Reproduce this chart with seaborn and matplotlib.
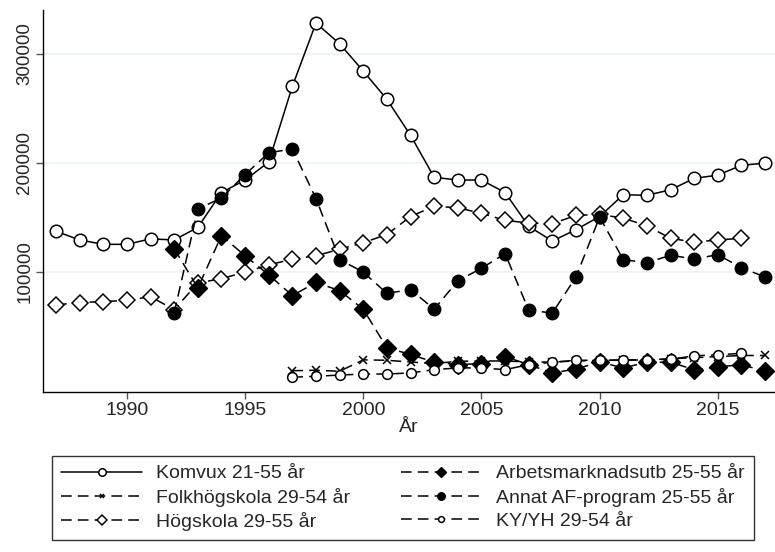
import numpy as np
import pandas as pd
import matplotlib
matplotlib.use("Agg")
import matplotlib.pyplot as plt
import seaborn as sns

years_all = list(range(1987, 2018))
komvux = [137000, 129000, 125000, 125000, 130000, 129000, 140500, 172500, 184000, 200500,
          270000, 328000, 309000, 284000, 258000, 225000, 186500, 184000, 184000, 172500,
          141500, 128000, 138500, 150500, 170500, 170000, 175000, 185500, 188500, 197500, 199500]

years_arb = list(range(1992, 2018))
arbets = [121000, 85000, 133000, 114500, 97000, 78000, 90000, 82500, 65500, 30000, 24000,
          16800, 14600, 15600, 22000, 14600, 7000, 10600, 17000, 11600, 16800, 16800, 10000,
          12500, 14600, 8500]

years_folk = list(range(1997, 2018))
folk = [9000, 9500, 8500, 19000, 18600, 17000, 15600, 17700, 17900, 18000, 17000, 17000,
        18000, 18500, 19000, 19000, 20000, 21000, 22000, 23000, 23000]

years_annat = list(range(1992, 2018))
annat = [62000, 157500, 167500, 189000, 209000, 212500, 167000, 111000, 99500, 80000, 83500,
         65500, 91500, 103000, 116500, 64500, 62000, 95000, 150000, 111000, 108000, 115000,
         111500, 115500, 103500, 95000]

years_hog = list(range(1987, 2017))
hogskola = [69500, 71500, 72500, 73500, 77000, 65000, 89500, 93500, 99500, 106000, 111500,
            114500, 120500, 126500, 134000, 150500, 160000, 158500, 153500, 147000, 144500,
            144000, 151500, 152500, 149000, 142000, 130500, 127000, 129000, 130500]

years_ky = list(range(1997, 2017))
kyyh = [3000, 4000, 5000, 6000, 6000, 7000, 10000, 11600, 11600, 10000, 14600, 16800,
        18600, 18600, 18600, 19000, 19500, 22700, 23600, 25000]

labels = ["Komvux 21-55 år", "Arbetsmarknadsutb 25-55 år", "Folkhögskola 29-54 år",
          "Annat AF-program 25-55 år", "Högskola 29-55 år", "KY/YH 29-54 år"]
xticks = [1990, 1995, 2000, 2005, 2010, 2015]
yticks = [100000, 200000, 300000]

sns.set_style("white")
plt.rcParams['font.family'] = ['Liberation Sans', 'DejaVu Sans']
FS = 14

fig = plt.figure(figsize=(7.75, 5.52), dpi=100)
ax = fig.add_axes([43/775, 1-392/552, 1-43/775, (392-10)/552])

for y in yticks:
    ax.axhline(y, color="#eaf2f3", lw=1.2, zorder=0)

dash = (0, (7, 4))
series = [
    (years_all, komvux, labels[0], dict(linestyle="-", marker="o", mfc="white", mec="black", ms=9, mew=1.1)),
    (years_folk, folk, labels[2], dict(linestyle=dash, marker="x", mfc="black", mec="black", ms=6, mew=1.1)),
    (years_hog, hogskola, labels[4], dict(linestyle=dash, marker="D", mfc="white", mec="black", ms=8, mew=1.1)),
    (years_arb, arbets, labels[1], dict(linestyle=dash, marker="D", mfc="black", mec="black", ms=9, mew=1.0)),
    (years_annat, annat, labels[3], dict(linestyle=dash, marker="o", mfc="black", mec="black", ms=9, mew=1.0)),
    (years_ky, kyyh, labels[5], dict(linestyle=dash, marker="o", mfc="white", mec="black", ms=7, mew=1.1)),
]

for xs, ys, lab, kw in series:
    df = pd.DataFrame({"x": xs, "y": ys})
    sns.lineplot(data=df, x="x", y="y", ax=ax, color="black", lw=1.1, label=lab, **kw)

h, l = ax.get_legend_handles_labels()
ax.get_legend().remove()

ax.set_xlim(1986.45, 2017.42)
ax.set_ylim(-10500, 340000)
ax.set_xticks(xticks)
ax.set_yticks(yticks)
ax.set_yticklabels([str(v) for v in yticks], rotation=90, va="center")
ax.tick_params(axis="both", direction="out", length=5, width=1, color="#555555",
               labelsize=FS, left=True, bottom=True, pad=2)
ax.tick_params(axis="y", labelsize=13.5)
ax.set_xlabel("År", fontsize=FS, labelpad=0)
ax.set_ylabel("")
for s in ["top", "right"]:
    ax.spines[s].set_visible(False)
for s in ["left", "bottom"]:
    ax.spines[s].set_color("black")
    ax.spines[s].set_linewidth(1)

leg = fig.legend(h, l, ncol=2, loc="upper left",
                 bbox_to_anchor=(52/775, 1-456/552),
                 frameon=True, fontsize=FS, markerscale=0.6,
                 handlelength=4.2, handletextpad=0.72, borderaxespad=0, columnspacing=2.57,
                 labelspacing=0.28, fancybox=False, edgecolor="black", borderpad=0.45)
leg.get_frame().set_linewidth(1)

fig.savefig("out.png", dpi=100)
